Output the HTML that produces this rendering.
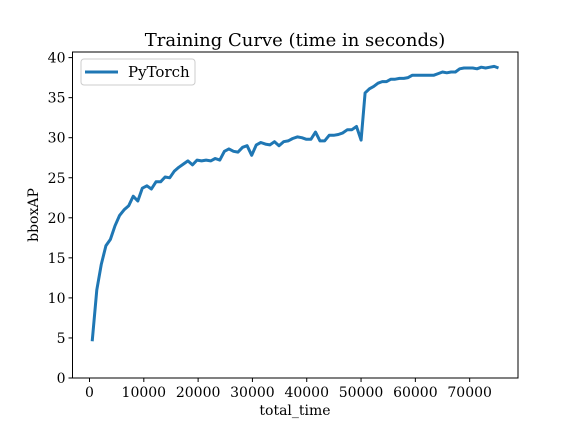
<!DOCTYPE html>
<html><head><meta charset="utf-8"><style>
body{margin:0;background:#fff}
svg text{font-family:"DejaVu Serif","Liberation Serif",serif;fill:#000}
</style></head><body>
<svg width="576" height="432" viewBox="0 0 576 432">
<rect width="576" height="432" fill="#fff"/>
<text x="295" y="46" font-size="18" text-anchor="middle">Training Curve (time in seconds)</text>
<g id="plot"></g>
<text x="295" y="415" font-size="14" text-anchor="middle">total_time</text>
<text transform="translate(38,215) rotate(-90)" font-size="14" text-anchor="middle">bboxAP</text>
</svg>
<script>
const times=[500,1339,2178,3017,3856,4695,5534,6373,7212,8051,8890,9729,10568,11407,12246,13085,13924,14763,15602,16441,17280,18119,18958,19797,20636,21475,22314,23153,23992,24831,25670,26509,27348,28187,29026,29865,30704,31543,32382,33221,34060,34899,35738,36577,37416,38255,39094,39933,40772,41611,42450,43289,44128,44967,45806,46645,47484,48323,49162,50001,
50750,51542,52334,53126,53918,54710,55502,56294,57086,57878,58670,59462,60254,61046,61838,62630,63422,64214,65006,65798,66590,67382,68174,68966,69758,70550,71342,72134,72926,73718,74510,75302];
const bboxAP=[4.6,11,14.2,16.5,17.3,19,20.3,21,21.5,22.7,22.1,23.7,24,23.6,24.5,24.5,25.1,25,25.8,26.3,26.7,27.1,26.6,27.2,27.1,27.2,27.1,27.4,27.2,28.3,28.6,28.3,28.2,28.8,29,27.8,29.1,29.4,29.2,29.1,29.5,29,29.5,29.6,29.9,30.1,30,29.8,29.8,30.7,29.6,29.6,30.3,30.3,30.4,30.6,31,31,31.4,29.7,
35.6,36.1,36.4,36.8,37,37,37.3,37.3,37.4,37.4,37.5,37.8,37.8,37.8,37.8,37.8,37.8,38,38.2,38.1,38.2,38.2,38.6,38.7,38.7,38.7,38.6,38.8,38.7,38.8,38.9,38.7];
const xTicks=[0,10000,20000,30000,40000,50000,60000,70000];
const yTicks=[0,5,10,15,20,25,30,35,40];
const L=72.5,R=518,T=52,B=378;
const xmin=-3130,xmax=78900,ymin=0,ymax=40.7;
const sx=v=>L+(v-xmin)/(xmax-xmin)*(R-L);
const sy=v=>B-(v-ymin)/(ymax-ymin)*(B-T);
const NS="http://www.w3.org/2000/svg";
const g=document.getElementById('plot');
function mk(t,a){const e=document.createElementNS(NS,t);for(const k in a)e.setAttribute(k,a[k]);g.appendChild(e);return e;}
let d=times.map((t,i)=>(i?'L':'M')+sx(t).toFixed(1)+' '+sy(bboxAP[i]).toFixed(1)).join(' ');
const line=mk('path',{d:d,fill:'none',stroke:'#1f77b4','stroke-width':3,'stroke-linejoin':'round'});


const frame=mk('rect',{x:L,y:T,width:R-L,height:B-T,fill:'none',stroke:'#000','stroke-width':1});


xTicks.forEach(v=>{const x=sx(v);
 const tk=mk('line',{x1:x,x2:x,y1:B,y2:B+4,stroke:'#000'});
 
 
 const t=mk('text',{x:x,y:B+19,'font-size':14,'text-anchor':'middle'});t.textContent=v;
 
 });
yTicks.forEach(v=>{const y=sy(v);
 const tk=mk('line',{x1:L-4,x2:L,y1:y,y2:y,stroke:'#000'});
 
 
 const t=mk('text',{x:L-7,y:y+5,'font-size':14,'text-anchor':'end'});t.textContent=v;
 
 });
const lg=mk('rect',{x:81,y:59,width:114,height:26,rx:3,fill:'#fff',stroke:'#ccc'});


const ll=mk('line',{x1:85,x2:118,y1:72,y2:72,stroke:'#1f77b4','stroke-width':3});


const lt=mk('text',{x:128,y:77,'font-size':15});lt.textContent='PyTorch';


</script>
</body></html>
